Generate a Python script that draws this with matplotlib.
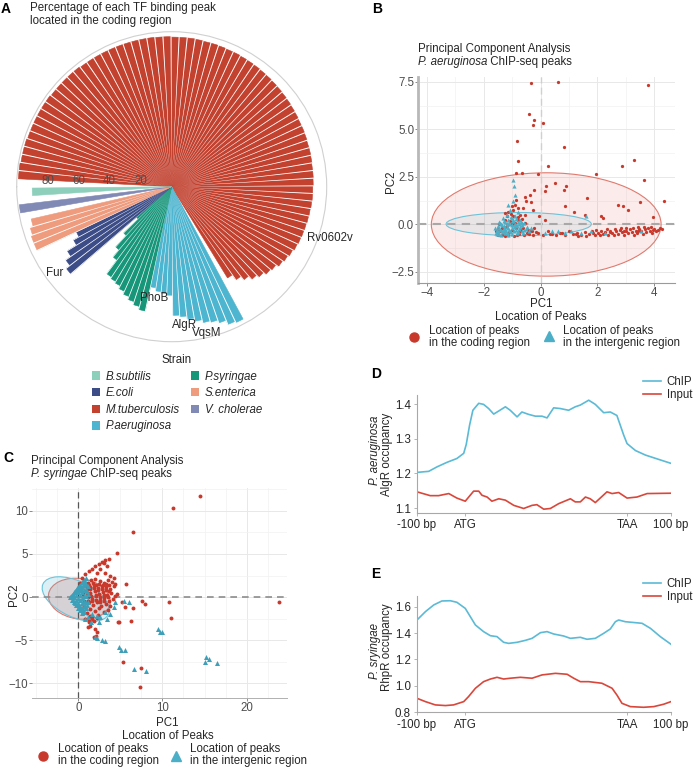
import numpy as np
import matplotlib
matplotlib.use("Agg")
import matplotlib.pyplot as plt
from matplotlib.patches import Ellipse, Patch
from matplotlib.lines import Line2D
from matplotlib.ticker import FuncFormatter, MultipleLocator
from matplotlib.colors import to_rgba

plt.rcParams['font.family'] = ['Liberation Sans', 'DejaVu Sans']
plt.rcParams['axes.unicode_minus'] = True

W, H = 696, 768
FS = 8.3
TXT = '#262626'
TCK = '#4d4d4d'

# ---------------- Panel A data (percent of peaks in coding region) ----------------
strain_names = ['B.subtilis', 'E.coli', 'M.tuberculosis', 'P.aeruginosa',
                'P.syringae', 'S.enterica', 'V. cholerae']
mtb_pct = [99, 99, 98.5, 98.5, 98.5, 98, 98, 98, 98, 98,
           98, 97.5, 97.5, 97.5, 97.5, 97.5, 97, 97, 97, 97,
           97, 97, 97, 97, 97, 97, 96.8, 96.8, 96.5, 96.5,
           96.5, 96.3, 96, 96, 95.8, 95.5, 95.5, 95.2, 95, 94.8,
           94.5, 94.3, 94, 93.8, 93.5, 93.3, 93, 92.8, 92.5, 92.5,
           92.3, 92, 92, 91.8, 91.5, 91.5, 91.3, 91, 91, 90.8,
           90.5, 90.3, 90, 89.8, 89.5, 89, 88, 87, 86, 84,
           83, 81, 79, 76, 73, 69]
pae_pct = [97, 96, 93, 91, 90, 88, 86, 84, 83, 70, 69, 68, 66]
psy_pct = [82, 80, 78, 76, 74, 72, 71, 70, 59, 53, 43, 30]
eco_pct = [86, 83, 79, 72, 68]
sen_pct = [96, 96, 95, 93]
vch_pct = [99]
bsu_pct = [90]
r_ticks = [20, 40, 60, 80]
tf_labels = ['Rv0602v', 'AlgR', 'VqsM', 'PhoB', 'Fur']

# ---------------- Panel B data (P. aeruginosa PCA) ----------------
pae_coding_pc1 = [-0.32, 0.62, 3.80, -0.42, -0.22, -0.28, 0.09, -0.84, 0.83, -0.81,
                  3.31, 2.88, 0.27, -0.87, -0.67, -0.08, 1.96, 3.64, 0.50, 0.19,
                  0.15, 0.91, 0.83, -0.23, -0.55, -0.37, 1.65, 2.73, 3.49, 4.36,
                  0.85, 1.18, 2.20, 2.14, 2.90, 3.08, 3.95, 1.56, -0.05, 0.15,
                  -0.51, -0.32, -0.26, -0.55, -1.13, -1.02, -0.88, -0.78, -0.73, -0.96,
                  -1.19, -1.27, -0.61,
                  -0.08, 0.09, 0.27, 0.39, 0.53, 0.68, 0.85, 0.99, 1.15, 1.30,
                  1.44, 1.56, 1.70, 1.81, 1.91, 2.02, 2.12, 2.20, 2.28, 2.37,
                  2.44, 2.51, 2.58, 2.67, 2.73, 2.80, 2.87, 2.94, 3.01, 3.08,
                  3.15, 3.22, 3.29, 3.35, 3.40, 3.47, 3.54, 3.61, 3.67, 3.73,
                  3.80, 3.86, 3.92, 3.99, 4.06, 4.13, 4.21, 4.28, 2.61, 2.84,
                  3.03, 3.26, 2.33, 2.08, 1.61, 1.32, 1.96, 3.43, 3.66, 3.89,
                  -1.58, -1.49, -1.37, -1.31, -1.19, -1.13, -1.02, -0.90, -0.84, -0.73,
                  -0.61, -0.49, -0.37, -0.26, -0.22, -1.25, -1.08, -0.78, -0.55, -1.43,
                  -1.51, -1.27,
                  -1.55, -1.45, -1.35, -1.22, -1.12, -1.00, -0.95, -0.86, -0.75, -0.68,
                  -0.58, -0.45, -0.40, -0.30, -0.15, -1.05, -0.98, -0.90, -0.80, -0.65,
                  2.45, 2.95, 3.45, 3.95, 1.85, 1.25, 0.75, 0.35]
pae_coding_pc2 = [7.44, 7.49, 7.32, 5.81, 5.49, 5.25, 5.32, 4.37, 4.07, 3.35,
                  3.39, 3.07, 3.07, 2.70, 2.70, 2.65, 2.65, 2.32, 2.18, 2.00,
                  1.74, 2.04, 1.81, 1.79, 1.47, 1.56, 1.37, 1.04, 1.18, 1.25,
                  0.96, 0.65, 0.33, 0.42, 0.95, 0.77, 0.37, 0.51, 0.42, 0.25,
                  1.21, 1.16, 0.77, 0.51, 0.68, 0.95, 1.30, 0.86, 0.51, 0.42,
                  0.42, 0.60, 0.86,
                  -0.46, -0.54, -0.37, -0.51, -0.58, -0.46, -0.54, -0.37, -0.51, -0.46,
                  -0.58, -0.40, -0.51, -0.37, -0.54, -0.46, -0.33, -0.51, -0.40, -0.54,
                  -0.33, -0.46, -0.58, -0.37, -0.49, -0.28, -0.42, -0.54, -0.33, -0.46,
                  -0.25, -0.40, -0.54, -0.32, -0.44, -0.23, -0.37, -0.49, -0.26, -0.39,
                  -0.19, -0.33, -0.46, -0.25, -0.37, -0.30, -0.19, -0.26, -0.23, -0.19,
                  -0.16, -0.18, -0.26, -0.54, -0.63, -0.63, -0.28, -0.12, -0.12, -0.11,
                  -0.37, -0.54, -0.19, -0.46, -0.02, -0.54, -0.28, 0.07, -0.54, -0.37,
                  -0.19, -0.46, -0.33, -0.54, -0.19, 0.25, 0.16, 0.25, 0.07, -0.37,
                  -0.23, -0.63,
                  -0.50, 0.05, -0.55, -0.15, -0.40, 0.00, -0.60, -0.18, -0.50, -0.25,
                  -0.55, -0.28, -0.50, -0.35, -0.40, 0.55, 0.75, 1.00, 0.40, 0.30,
                  -0.42, -0.36, -0.33, -0.30, -0.45, -0.50, -0.44, -0.48]
pae_inter_pc1 = [-1.58, -1.54, -1.49, -1.46, -1.40, -1.37, -1.35, -1.30, -1.27, -1.25,
                 -1.22, -1.18, -1.16, -1.13, -1.11, -1.08, -1.04, -1.02, -1.00, -0.96,
                 -0.92, -0.90, -0.88, -0.84, -0.81, -0.76, -0.73, -0.67, -0.64, -0.57,
                 -0.49, -0.41, -0.32, -1.52, -1.43, -1.31, -1.19, -1.08, -0.96, -0.90,
                 -0.92, -0.96, -1.13, -0.78, -0.67, 0.62, 0.85, 1.09, 1.44, 1.61,
                 1.79, 2.26, 3.54, 0.39, 0.15,
                 -1.55, -1.50, -1.45, -1.42, -1.38, -1.34, -1.30, -1.28, -1.24, -1.20,
                 -1.17, -1.14, -1.10, -1.07, -1.05, -1.02, -0.99, -0.97, -0.94, -0.91,
                 -0.87, -0.85, -0.82, -0.79, -0.75, -0.71, -0.69, -0.62, -0.59, -0.53,
                 -1.60, -1.48]
pae_inter_pc2 = [-0.46, -0.28, -0.40, -0.16, -0.54, -0.33, -0.05, -0.23, -0.46, 0.12,
                 -0.37, -0.12, -0.54, 0.25, -0.28, 0.02, -0.42, 0.33, -0.16, 0.16,
                 -0.33, 0.42, -0.05, -0.46, 0.12, -0.23, 0.25, -0.37, -0.02, -0.28,
                 -0.11, -0.37, -0.19, -0.51, 0.07, 0.33, 0.51, 0.77, 1.21, 1.56,
                 2.00, 2.35, 1.04, 0.68, 0.07, -0.37, -0.46, -0.33, -0.46, 0.42,
                 -0.37, -0.46, -0.37, -0.37, -0.46,
                 -0.35, -0.10, -0.50, -0.28, 0.00, -0.42, -0.10, 0.20, -0.30, 0.05,
                 -0.45, -0.20, 0.10, -0.35, 0.40, -0.05, -0.50, 0.25, -0.15, 0.05,
                 -0.30, 0.30, -0.10, -0.40, 0.05, -0.15, 0.15, -0.45, 0.10, -0.25,
                 -0.20, 0.12]
# confidence ellipses: centre x, centre y, width, height, angle
pae_coding_ellipse = [0.20, 0.00, 8.10, 5.44, 0]
pae_inter_ellipse = [-0.77, 0.02, 5.12, 1.22, 0]

# ---------------- Panel C data (P. syringae PCA) ----------------
psy_coding_pc1 = [6.51, 4.60, 5.71, 5.20, 5.60, 6.51, 6.27, 4.80, 7.58, 7.98,
                  10.75, 11.07, 23.85, 5.28, 7.46, 7.38, 4.68, 11.23, 14.52,
                  1.23, 1.11, 2.02, 2.22, 2.14, 1.90, 1.63, 1.43,
                  0.44, 0.83, 1.23, 1.63, 2.02, 2.42, 2.82, 3.21, 3.61,
                  3.02, 3.41, 2.62, 2.22, 3.21, 3.81, 4.21, 4.40, 4.60,
                  0.63, 1.11, 1.51, 2.02, 2.54, 3.02, 3.49, 4.01,
                  0.83, 1.35, 1.83, 2.30, 2.82, 3.33, 3.81, 4.29,
                  0.95, 1.43, 1.94, 2.46, 2.94, 3.41, 3.93, 4.40,
                  1.11, 1.63, 2.14, 2.62, 3.10, 3.61, 4.13,
                  1.23, 1.75, 2.22, 2.74, 3.25, 3.81,
                  1.43, 1.94, 2.46, 3.02, 3.53, 1.35, 2.30,
                  0.24, 0.44, 0.56, 0.63, 0.71,
                  0.90, 1.30, 1.70, 2.10, 2.50, 2.90, 3.30, 3.70,
                  1.00, 1.45, 1.90, 2.35, 2.80, 3.25, 3.70,
                  1.05, 1.55, 2.05, 2.55, 3.05, 3.55,
                  1.20, 1.65, 2.10, 2.60, 3.10,
                  0.55, 0.75, 1.00, 1.30, 1.60, 1.90, 2.25]
psy_coding_pc2 = [7.54, 5.15, 1.50, -0.62, -1.19, -1.31, -2.73, -2.92, -0.42, -0.81,
                  -0.62, -2.42, -0.62, -7.54, -8.23, -10.42, -2.85, 10.35, 11.76,
                  -2.92, -3.50, -3.69, -4.08, -4.46, -4.65, -2.54, -3.31,
                  2.27, 2.65, 3.04, 3.31, 3.62, 3.81, 4.08, 4.31, 4.46,
                  4.00, 3.62, 3.23, 2.85, 2.85, 2.46, 2.27, 1.50, 0.35,
                  1.88, 1.69, 2.00, 2.15, 1.88, 1.69, 2.00, 1.77,
                  1.31, 1.12, 1.38, 1.00, 1.31, 1.12, 0.92, 1.23,
                  0.73, 0.46, 0.73, 0.35, 0.62, 0.23, 0.46, 0.15,
                  -0.04, -0.23, 0.08, -0.31, -0.15, -0.42, -0.23,
                  -0.62, -0.92, -0.62, -1.08, -0.81, -1.08,
                  -1.38, -1.58, -1.31, -1.77, -1.46, -2.23, -2.08,
                  1.69, 1.12, 0.35, -0.42, -1.08,
                  1.55, 1.45, 1.60, 1.40, 1.55, 1.40, 1.50, 1.35,
                  0.95, 0.90, 1.05, 0.80, 0.95, 0.80, 0.65,
                  0.20, 0.10, 0.25, 0.05, 0.20, 0.00,
                  -0.45, -0.40, -0.30, -0.55, -0.45,
                  -1.80, -2.50, -1.90, -2.60, -2.30, -2.75, -2.45]
psy_inter_pc1 = [-1.03, -0.79, -0.79, -0.56, -0.56, -0.56, -0.32, -0.32, -0.32, -0.32,
                 -0.08, -0.08, -0.08, -0.08, -0.08, 0.16, 0.16, 0.16, 0.16, 0.16,
                 0.16, 0.40, 0.40, 0.40, 0.40, 0.40, 0.40, 0.40, 0.63, 0.63,
                 0.63, 0.63, 0.63, 0.63, 0.63, 0.87, 0.87, 0.87, 0.87, 0.87,
                 0.87, 1.11, 1.11, 1.11,
                 0.83, 1.11, 1.63, 2.22, 2.62, 3.21, 3.41, 1.51, 2.42, 2.02,
                 2.22, 2.82, 3.21, 4.80, 5.08, 5.60, 6.67, 8.10, 5.99, 5.40,
                 9.44, 9.76, 9.96, 15.20, 15.52, 15.04, 16.43, 4.40, 4.21, 3.81,
                 -0.90, -0.67, -0.44, -0.20, 0.04, 0.28, 0.52, 0.75, 0.99,
                 -0.67, -0.44, -0.20, 0.04, 0.28, 0.52, 0.75, 0.99]
psy_inter_pc2 = [-0.04, 0.23, -0.31, 0.54, -0.04, -0.62, 0.85, 0.23, -0.38, -0.92,
                 1.15, 0.54, -0.08, -0.69, -1.23, 1.46, 0.85, 0.23, -0.38, -1.00,
                 -1.54, 1.77, 1.15, 0.54, -0.08, -0.69, -1.31, -1.85, 2.00, 1.38,
                 0.77, 0.15, -0.46, -1.08, -1.69, 2.23, 1.54, 0.85, 0.15, -0.54,
                 -1.23, 1.31, 0.35, -0.62,
                 -2.54, -2.35, -1.96, -2.15, -2.35, -1.77, -2.54, -2.92, -2.92, -4.65,
                 -4.77, -4.92, -5.04, -5.81, -6.19, -6.08, -8.31, -8.62, -0.54, -0.42,
                 -3.69, -4.00, -4.00, -6.96, -7.15, -7.54, -7.65, -0.54, -1.19, -1.96,
                 0.10, 0.40, 0.70, 1.00, 1.30, 1.10, 1.70, 1.60, 0.70,
                 -0.35, -0.65, -0.95, -1.20, -1.50, -1.40, -1.00, -0.90]
psy_coding_ellipse = [0.13, -0.19, 7.40, 4.70, -8]
psy_inter_ellipse = [-0.30, -0.23, 8.54, 4.20, -24]

# ---------------- Panel D / E data (metagene profiles) ----------------
meta_ticks = [0, 19.0, 82.7, 100]
meta_labels = ['-100 bp', 'ATG', 'TAA', '100 bp']

algr_chip_x = [0, 4.6, 7.9, 11.8, 15.7, 18.4, 19.4, 20.7, 22.0, 24.3,
               26.2, 28.2, 30.2, 32.2, 34.8, 36.7, 39.4, 41.3, 44.0, 46.6,
               49.2, 51.2, 53.8, 56.4, 59.7, 62.3, 64.3, 67.6, 70.2, 73.5,
               76.1, 78.7, 81.4, 82.7, 86.0, 89.9, 94.5, 100]
algr_chip_y = [1.203, 1.206, 1.219, 1.232, 1.243, 1.258, 1.284, 1.339, 1.382, 1.402,
               1.399, 1.387, 1.371, 1.380, 1.392, 1.382, 1.363, 1.377, 1.370, 1.365,
               1.365, 1.360, 1.389, 1.387, 1.382, 1.392, 1.397, 1.411, 1.399, 1.375,
               1.377, 1.367, 1.310, 1.286, 1.266, 1.253, 1.242, 1.229]
algr_input_x = [0, 5.2, 8.5, 12.5, 15.7, 19.0, 22.3, 24.3, 25.6, 27.6,
                29.5, 32.2, 34.8, 38.1, 42.0, 45.3, 47.2, 49.9, 52.5, 55.8,
                60.4, 62.3, 64.3, 66.3, 68.2, 70.2, 74.8, 76.8, 79.4, 82.7,
                86.6, 90.6, 100]
algr_input_y = [1.147, 1.136, 1.136, 1.142, 1.129, 1.120, 1.149, 1.149, 1.137, 1.132,
                1.120, 1.127, 1.123, 1.108, 1.099, 1.108, 1.110, 1.097, 1.099, 1.113,
                1.127, 1.118, 1.118, 1.132, 1.127, 1.116, 1.147, 1.142, 1.145, 1.129,
                1.132, 1.142, 1.143]

rhpr_chip_x = [0, 3.3, 6.6, 9.8, 13.1, 15.7, 19.0, 21.0, 23.0, 26.2,
               28.9, 31.5, 34.1, 36.1, 39.4, 42.7, 45.3, 48.6, 51.2, 53.8,
               57.7, 60.4, 64.3, 66.9, 70.2, 73.5, 76.1, 78.1, 79.4, 82.0,
               88.6, 91.9, 95.8, 100]
rhpr_chip_y = [1.499, 1.562, 1.613, 1.643, 1.645, 1.633, 1.587, 1.524, 1.461, 1.411,
               1.380, 1.373, 1.330, 1.322, 1.330, 1.345, 1.360, 1.403, 1.411, 1.393,
               1.378, 1.360, 1.368, 1.353, 1.360, 1.398, 1.431, 1.486, 1.499, 1.486,
               1.474, 1.436, 1.373, 1.315]
rhpr_input_x = [0, 3.3, 7.2, 11.2, 14.4, 18.4, 20.3, 23.0, 26.2, 28.9,
                31.5, 34.1, 36.7, 40.7, 45.3, 49.2, 54.5, 59.1, 61.7, 64.3,
                67.6, 72.8, 76.8, 78.7, 80.7, 84.0, 89.2, 93.2, 97.1, 100]
rhpr_input_y = [0.906, 0.881, 0.856, 0.851, 0.856, 0.881, 0.919, 0.982, 1.032, 1.052,
                1.065, 1.052, 1.058, 1.065, 1.058, 1.083, 1.095, 1.088, 1.058, 1.032,
                1.032, 1.020, 0.982, 0.931, 0.868, 0.843, 0.838, 0.843, 0.861, 0.881]

# ---------------- styles ----------------
COL = {'B.subtilis': '#8DCFBA', 'E.coli': '#3B4C87', 'M.tuberculosis': '#C2412F',
       'P.aeruginosa': '#4DB5CF', 'P.syringae': '#17967A', 'S.enterica': '#EE9B7E',
       'V. cholerae': '#8189B5'}
RED_PT = '#C8392C'
BLUE_PT = '#4BAFC8'
ELL_RED = '#D9443A'
ELL_BLUE = '#4FB3CF'
CHIP_C = '#5BBAD5'
INPUT_C = '#D9473B'

fig = plt.figure(figsize=(W / 100, H / 100), dpi=100)


def rect(l, t, r, b):
    return [l / W, 1 - b / H, (r - l) / W, (b - t) / H]


def ftext(x, y, s, **kw):
    kw.setdefault('fontsize', FS)
    kw.setdefault('color', TXT)
    return fig.text(x / W, 1 - y / H, s, **kw)


def rich(x, y, parts, **kw):
    r = fig.canvas.get_renderer()
    for s, st in parts:
        t = ftext(x, y, s, style=st, **kw)
        x += t.get_window_extent(renderer=r).width


def minus_fmt(fmt):
    return FuncFormatter(lambda v, p: (fmt % v).replace('-', '\u2212'))


# ================= Panel A =================
axA = fig.add_axes(rect(16.7, 31.7, 326.7, 341.7), projection='polar')
axA.set_theta_zero_location('W')
axA.set_theta_direction(-1)
axA.set_ylim(0, 100)
axA.set_xticks([])
axA.set_yticks([])
axA.grid(False)
axA.spines['polar'].set_color('#d0d0d0')
axA.spines['polar'].set_linewidth(0.8)

slot_w = 3.1
first_center = 4.5
groups = [(mtb_pct, 'M.tuberculosis', 0), (pae_pct, 'P.aeruginosa', 1),
          (psy_pct, 'P.syringae', 0), (eco_pct, 'E.coli', 0),
          (sen_pct, 'S.enterica', 0), (vch_pct, 'V. cholerae', 1),
          (bsu_pct, 'B.subtilis', 1)]
all_slots, all_vals, all_cols = [], [], []
slot = 0
for vals, name, gap in groups:
    slot += gap
    all_slots += list(slot + np.arange(len(vals)))
    all_vals += list(vals)
    all_cols += [COL[name]] * len(vals)
    slot += len(vals)
all_slots = np.array(all_slots)
all_vals = np.array(all_vals, dtype=float)
theta_all = np.deg2rad(first_center + all_slots * slot_w)
axA.bar(theta_all, all_vals, width=np.deg2rad(slot_w), color=all_cols,
        edgecolor=all_cols, linewidth=0.4, zorder=2)
# thin white wedge separators between neighbouring bars (they taper to the centre)
adj = np.diff(all_slots) == 1
b_theta = np.deg2rad(first_center + (all_slots[:-1][adj] + 0.5) * slot_w)
b_top = np.maximum(all_vals[:-1], all_vals[1:])[adj] + 0.5
axA.bar(b_theta, b_top, width=np.deg2rad(slot_w * 0.13), color='white',
        edgecolor='none', linewidth=0, zorder=2.5)

for v in r_ticks:
    axA.text(0, v, str(v), ha='center', va='bottom', fontsize=FS, color=TCK, zorder=3)

label_pos = [(200.8, 93.4, 'left'), (264.9, 89.6, 'center'), (256.4, 97.1, 'center'),
             (279.0, 72.7, 'center'), (323.5, 93.7, 'center')]
for name, (deg, rr, ha) in zip(tf_labels, label_pos):
    axA.text(np.deg2rad(deg), rr, name, ha=ha, va='center', fontsize=FS,
             color=TXT, zorder=4, clip_on=False)

ftext(0.5, 2, 'A', fontsize=10, weight='bold', va='top', color='black')
ftext(30, 11, 'Percentage of each TF binding peak', va='baseline')
ftext(30, 24, 'located in the coding region', va='baseline')

handles = [Patch(facecolor=COL[n], edgecolor='none') for n in strain_names]
legA = fig.legend(handles, strain_names, ncol=2, loc='upper center',
                  bbox_to_anchor=(177 / W, 1 - 354 / H), frameon=False,
                  prop={'style': 'italic', 'size': FS}, title='Strain',
                  title_fontsize=FS, handlelength=0.75, handleheight=0.75,
                  handletextpad=0.5, columnspacing=0.9, labelspacing=0.4,
                  borderpad=0, borderaxespad=0)
legA.get_title().set_color(TXT)
for t in legA.get_texts():
    t.set_color(TXT)


# ================= PCA helper =================
def pca_panel(ax, xc, yc, xi, yi, ell_c, ell_i, s_c, s_i, alpha, blue_col):
    for prm, col, ec in [(ell_c, ELL_RED, '#E07A6E'), (ell_i, ELL_BLUE, '#6CC3D9')]:
        e = Ellipse((prm[0], prm[1]), prm[2], prm[3], angle=prm[4],
                    facecolor=to_rgba(col, alpha), edgecolor=ec, linewidth=0.8, zorder=1)
        ax.add_patch(e)
    ax.scatter(xc, yc, s=s_c, c=RED_PT, marker='o', linewidths=0, zorder=3)
    ax.scatter(xi, yi, s=s_i, c=blue_col, marker='^', linewidths=0, zorder=4)
    for sp in ['top', 'right']:
        ax.spines[sp].set_visible(False)
    ax.tick_params(which='major', direction='out', length=2, width=0.6,
                   color='#777777', labelsize=FS, labelcolor=TCK, pad=0.8)
    ax.tick_params(which='minor', length=0)
    ax.grid(which='major', color='#e8e8e8', linewidth=0.7)
    ax.grid(which='minor', color='#f1f1f1', linewidth=0.5)
    ax.set_axisbelow(True)


# ================= Panel B =================
axB = fig.add_axes(rect(418, 77, 675, 283))
axB.set_xlim(-4.32, 4.74)
axB.set_ylim(-3.08, 7.76)
axB.set_xticks([-4, -2, 0, 2, 4])
axB.set_yticks([-2.5, 0, 2.5, 5, 7.5])
axB.xaxis.set_minor_locator(MultipleLocator(1))
axB.yaxis.set_minor_locator(MultipleLocator(1.25))
axB.yaxis.set_major_formatter(minus_fmt('%.1f'))
axB.xaxis.set_major_formatter(minus_fmt('%d'))
axB.axhline(0, color='#a8a8a8', linestyle=(0, (4, 3)), linewidth=1.5, zorder=2)
axB.axvline(0, color='#d0d0d0', linestyle=(0, (5, 3)), linewidth=1.0, zorder=2)
pca_panel(axB, pae_coding_pc1, pae_coding_pc2, pae_inter_pc1, pae_inter_pc2,
          pae_coding_ellipse, pae_inter_ellipse, 5.5, 9, 0.1, BLUE_PT)
axB.spines['left'].set_color('#b8b8b8')
axB.spines['left'].set_linewidth(2.0)
axB.spines['bottom'].set_color('#9a9a9a')
axB.spines['bottom'].set_linewidth(0.8)

ftext(372, 2, 'B', fontsize=10, weight='bold', va='top', color='black')
ftext(418, 51.7, 'Principal Component Analysis', va='baseline')
rich(418, 65, [('P. aeruginosa', 'italic'), (' ChIP-seq peaks', 'normal')], va='baseline')
ftext(390.5, 182, 'PC2', rotation=90, ha='center', va='center')
ftext(541, 303.5, 'PC1', ha='center', va='center')
ftext(541, 316.5, 'Location of Peaks', ha='center', va='center')
fig.add_artist(Line2D([414 / W], [1 - 337 / H], marker='o', markersize=6.5,
                      color=RED_PT, linestyle='none', transform=fig.transFigure))
fig.add_artist(Line2D([549 / W], [1 - 336 / H], marker='^', markersize=7.5,
                      color=BLUE_PT, linestyle='none', transform=fig.transFigure))
ftext(429, 337, 'Location of peaks\nin the coding region', va='center', linespacing=0.92)
ftext(563, 337, 'Location of peaks\nin the intergenic region', va='center', linespacing=0.92)

# ================= Panel C =================
axC = fig.add_axes(rect(32, 488, 287, 698))
axC.set_xlim(-5.5, 24.8)
axC.set_ylim(-11.7, 12.65)
axC.set_xticks([0, 10, 20])
axC.set_yticks([-10, -5, 0, 5, 10])
axC.xaxis.set_minor_locator(MultipleLocator(2.5))
axC.yaxis.set_minor_locator(MultipleLocator(2.5))
axC.yaxis.set_major_formatter(minus_fmt('%d'))
axC.axhline(0, color='#8c8c8c', linestyle=(0, (4, 3)), linewidth=1.2, zorder=2)
axC.axvline(0, color='#555555', linestyle=(0, (5, 3)), linewidth=0.9, zorder=2)
pca_panel(axC, psy_coding_pc1, psy_coding_pc2, psy_inter_pc1, psy_inter_pc2,
          psy_coding_ellipse, psy_inter_ellipse, 8, 13, 0.2, '#3E9FB8')
axC.spines['left'].set_visible(False)
axC.spines['bottom'].set_color('#b0b0b0')
axC.spines['bottom'].set_linewidth(0.7)

ftext(3, 451, 'C', fontsize=10, weight='bold', va='top', color='black')
ftext(31, 464, 'Principal Component Analysis', va='baseline')
rich(31, 477.3, [('P. syringae', 'italic'), (' ChIP-seq peaks', 'normal')], va='baseline')
ftext(13.5, 595, 'PC2', rotation=90, ha='center', va='center')
ftext(167, 722.5, 'PC1', ha='center', va='center')
ftext(168, 736, 'Location of Peaks', ha='center', va='center')
fig.add_artist(Line2D([43 / W], [1 - 756 / H], marker='o', markersize=6.5,
                      color=RED_PT, linestyle='none', transform=fig.transFigure))
fig.add_artist(Line2D([175.7 / W], [1 - 756 / H], marker='^', markersize=7.5,
                      color=BLUE_PT, linestyle='none', transform=fig.transFigure))
ftext(58, 755, 'Location of peaks\nin the coding region', va='center', linespacing=0.92)
ftext(190, 755, 'Location of peaks\nin the intergenic region', va='center', linespacing=0.92)


# ================= Panels D & E =================
def profile_panel(ax, cx, cy, ix, iy, ylim, yticks):
    ax.plot(cx, cy, color=CHIP_C, linewidth=1.2, label='ChIP')
    ax.plot(ix, iy, color=INPUT_C, linewidth=1.2, label='Input')
    ax.set_xlim(0, 100)
    ax.set_ylim(*ylim)
    ax.set_yticks(yticks)
    ax.yaxis.set_major_formatter(minus_fmt('%.1f'))
    ax.set_xticks(meta_ticks)
    ax.set_xticklabels(meta_labels)
    for sp in ['top', 'right']:
        ax.spines[sp].set_visible(False)
    for sp in ['left', 'bottom']:
        ax.spines[sp].set_color('#a8a8a8')
        ax.spines[sp].set_linewidth(0.8)
    ax.tick_params(direction='out', length=2.5, width=0.6, color='#a8a8a8',
                   labelsize=FS, labelcolor=TXT, pad=2)
    for lab in ax.get_xticklabels():
        lab.set_clip_on(False)


axD = fig.add_axes(rect(417, 395, 671, 513))
profile_panel(axD, algr_chip_x, algr_chip_y, algr_input_x, algr_input_y,
              (1.086, 1.426), [1.1, 1.2, 1.3, 1.4])
legD = axD.legend(loc='upper left', bbox_to_anchor=(643 / W, 1 - 376 / H),
                  bbox_transform=fig.transFigure, frameon=False, fontsize=FS,
                  handlelength=1.6, handletextpad=0.45, labelspacing=0.12,
                  borderpad=0, borderaxespad=0)
for t in legD.get_texts():
    t.set_color(TXT)
ftext(371, 367, 'D', fontsize=10, weight='bold', va='top', color='black')
ftext(375, 450, 'P. aeruginosa', rotation=90, style='italic', ha='center', va='center')
ftext(387.5, 454, 'AlgR occupancy', rotation=90, ha='center', va='center')

axE = fig.add_axes(rect(417, 595.7, 671, 712.3))
profile_panel(axE, rhpr_chip_x, rhpr_chip_y, rhpr_input_x, rhpr_input_y,
              (0.8, 1.683), [0.8, 1.0, 1.2, 1.4, 1.6])
legE = axE.legend(loc='upper left', bbox_to_anchor=(643 / W, 1 - 578 / H),
                  bbox_transform=fig.transFigure, frameon=False, fontsize=FS,
                  handlelength=1.6, handletextpad=0.45, labelspacing=0.12,
                  borderpad=0, borderaxespad=0)
for t in legE.get_texts():
    t.set_color(TXT)
ftext(371, 567, 'E', fontsize=10, weight='bold', va='top', color='black')
ftext(375, 651, 'P. sryingae', rotation=90, style='italic', ha='center', va='center')
ftext(387.5, 647, 'RhpR occupancy', rotation=90, ha='center', va='center')

fig.savefig('out.png', dpi=100, facecolor='white')
